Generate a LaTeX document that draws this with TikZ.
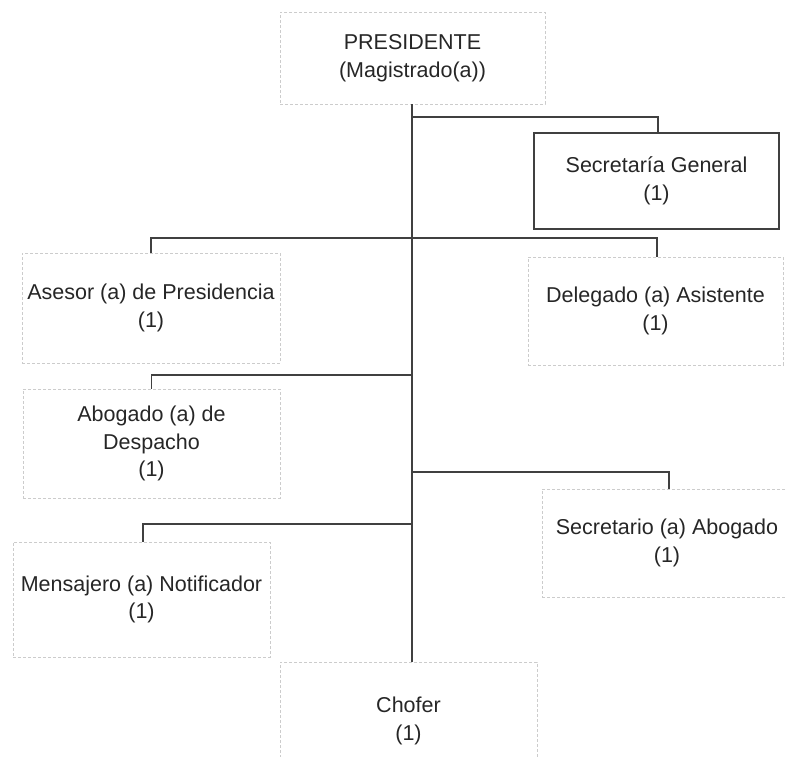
\documentclass[tikz,border=0pt]{standalone}
\usepackage{fontspec}
\setmainfont{Liberation Sans}
\begin{document}
\begin{tikzpicture}[x=1pt,y=1pt,
  every node/.style={font=\fontsize{21.5}{27.5}\selectfont, text=black!85, align=center, inner sep=0pt},
  unit/.style={draw=black!20, densely dashed, line width=0.8pt},
  mainunit/.style={draw=black!75, line width=1.1pt},
  link/.style={draw=black!75, line width=1.1pt}]
\useasboundingbox (0,0) rectangle (786,-756);
\node[unit, minimum width=265, minimum height=92] (P) at (412.5,-58) {PRESIDENTE\\(Magistrado(a))};
\node[mainunit, minimum width=245, minimum height=96] (SG) at (656.5,-181) {Secretaría General\\(1)};
\node[unit, minimum width=258, minimum height=110] (AS) at (151,-308) {Asesor (a) de Presidencia\\(1)};
\node[unit, minimum width=255, minimum height=108] (DL) at (655.5,-311) {Delegado (a) Asistente\\(1)};
\node[unit, minimum width=257, minimum height=109] (AB) at (151.5,-443.5) {Abogado (a) de\\Despacho\\(1)};
\node[unit, minimum width=250, minimum height=108] (SA) at (667,-543) {Secretario (a) Abogado\\(1)};
\node[unit, minimum width=257, minimum height=115] (MN) at (141.5,-599.5) {Mensajero (a) Notificador\\(1)};
\node[unit, minimum width=257, minimum height=118] (CH) at (408.5,-721) {Chofer\\(1)};
\coordinate (t0) at (412,-104);
\coordinate (t1) at (412,-662);
\coordinate (j1) at (412,-117);
\coordinate (j2) at (412,-238);
\coordinate (j3) at (412,-375);
\coordinate (j4) at (412,-472);
\coordinate (j5) at (412,-524);
\coordinate (dSG) at (658,-133);
\coordinate (dDL) at (657,-257);
\coordinate (dSA) at (669,-489);
\coordinate (dMN) at (143,-542);
\draw[link] (t0) -- (t1);
\draw[link] (j1) -| (dSG);
\draw[link] (AS.north) |- (j2) -| (dDL);
\draw[link] (j3) -| (AB.north);
\draw[link] (j4) -| (dSA);
\draw[link] (j5) -| (dMN);
\end{tikzpicture}
\end{document}
